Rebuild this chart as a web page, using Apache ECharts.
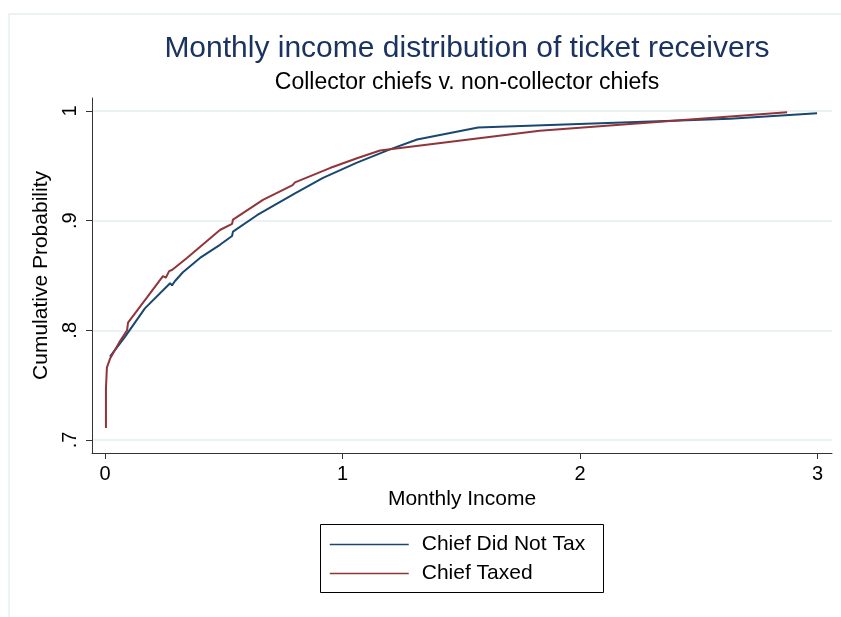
<!DOCTYPE html>
<html>
<head>
<meta charset="utf-8">
<script src="https://cdn.jsdelivr.net/npm/echarts@6/dist/echarts.min.js"></script>
<style>html,body{margin:0;padding:0;background:#fff;}#c{width:841px;height:617px;}</style>
</head>
<body>
<div id="c"></div>
<script>
const titleText = 'Monthly income distribution of ticket receivers';
const subtitleText = 'Collector chiefs v. non-collector chiefs';
const xName = 'Monthly Income';
const yName = 'Cumulative Probability';
const seriesNames = ['Chief Did Not Tax', 'Chief Taxed'];

const xTicks = [0, 1, 2, 3];
const xTickLabels = ['0', '1', '2', '3'];
const yTicks = [0.7, 0.8, 0.9, 1];
const yTickLabels = ['.7', '.8', '.9', '1'];

const blueX = [0.021, 0.084, 0.168, 0.274, 0.282, 0.295, 0.328, 0.40, 0.484, 0.535, 0.539, 0.64, 0.80, 0.918, 1.061, 1.20, 1.314, 1.571, 2.632, 2.998];
const blueY = [0.776, 0.794, 0.820, 0.843, 0.841, 0.845, 0.853, 0.866, 0.878, 0.886, 0.890, 0.905, 0.925, 0.939, 0.953, 0.965, 0.974, 0.985, 0.993, 0.998];

const redX = [0.004, 0.004, 0.008, 0.021, 0.06, 0.093, 0.097, 0.177, 0.244, 0.256, 0.270, 0.282, 0.345, 0.484, 0.535, 0.539, 0.665, 0.79, 0.80, 0.947, 1.061, 1.158, 1.83, 2.872];
const redY = [0.711, 0.747, 0.766, 0.774, 0.789, 0.800, 0.807, 0.830, 0.8495, 0.848, 0.854, 0.855, 0.866, 0.8915, 0.897, 0.901, 0.919, 0.9325, 0.935, 0.948, 0.957, 0.964, 0.982, 0.999];

const FONT = '"Liberation Sans", Arial, Helvetica, sans-serif';
const zip = (xs, ys) => xs.map((x, i) => [x, ys[i]]);
const lbl = (ticks, labels) => v => {
  let best = 0;
  ticks.forEach((t, i) => { if (Math.abs(t - v) < Math.abs(ticks[best] - v)) best = i; });
  return labels[best];
};

const chart = echarts.init(document.getElementById('c'), null, {renderer: 'canvas'});
chart.setOption({
  animation: false,
  backgroundColor: '#ffffff',
  textStyle: {fontFamily: FONT},
  graphic: [
    {type: 'rect', shape: {x: 9, y: 14, width: 900, height: 700}, style: {fill: 'none', stroke: '#e6eff0', lineWidth: 1.5}, silent: true, z: -10},
    {type: 'rect', shape: {x: 320.5, y: 524.5, width: 283, height: 68}, style: {fill: 'none', stroke: '#000', lineWidth: 1}, silent: true}
  ],
  title: [
    {text: titleText, left: 462, textAlign: 'center', top: 29,
     textStyle: {fontFamily: FONT, fontSize: 30, fontWeight: 'normal', color: '#1a3360'}},
    {text: subtitleText, left: 462, textAlign: 'center', top: 66,
     textStyle: {fontFamily: FONT, fontSize: 23, fontWeight: 'normal', color: '#000'}}
  ],
  legend: {
    orient: 'vertical', left: 329, top: 534,
    itemWidth: 79, itemHeight: 14, itemGap: 8, padding: 0,
    data: seriesNames,
    itemStyle: {opacity: 0},
    lineStyle: {width: 1.5},
    textStyle: {fontFamily: FONT, fontSize: 21, color: '#000', padding: [0, 0, 0, 8]}
  },
  grid: {left: 92, right: 9, top: 98, bottom: 164, containLabel: false},
  xAxis: {
    type: 'value', min: -0.0547, max: 3.061,
    name: xName, nameLocation: 'middle', nameGap: 33,
    nameTextStyle: {fontFamily: FONT, fontSize: 21, color: '#000'},
    axisLine: {show: true, onZero: false, lineStyle: {color: '#333', width: 1}},
    axisTick: {show: true, length: 6, customValues: xTicks, lineStyle: {color: '#333'}},
    axisLabel: {customValues: xTicks, formatter: lbl(xTicks, xTickLabels), margin: 11, fontFamily: FONT, fontSize: 20, color: '#000'},
    splitLine: {show: false}
  },
  yAxis: {
    type: 'value', min: 0.6881, max: 1.0119,
    name: yName, nameLocation: 'middle', nameGap: 38, nameRotate: 90,
    nameTextStyle: {fontFamily: FONT, fontSize: 21, color: '#000'},
    axisLine: {show: true, onZero: false, lineStyle: {color: '#333', width: 1}},
    axisTick: {show: true, length: 6, customValues: yTicks, lineStyle: {color: '#333'}},
    axisLabel: {customValues: yTicks, formatter: lbl(yTicks, yTickLabels), rotate: 90, margin: 12, fontFamily: FONT, fontSize: 20, color: '#000'},
    splitLine: {show: true, lineStyle: {color: '#eaf2f3', width: 2}}
  },
  series: [
    {name: seriesNames[0], type: 'line', data: zip(blueX, blueY), symbol: 'none', showSymbol: false,
     lineStyle: {color: '#1a476f', width: 2}, itemStyle: {color: '#1a476f'}},
    {name: seriesNames[1], type: 'line', data: zip(redX, redY), symbol: 'none', showSymbol: false,
     lineStyle: {color: '#90353b', width: 2}, itemStyle: {color: '#90353b'}}
  ]
});
</script>
</body>
</html>
